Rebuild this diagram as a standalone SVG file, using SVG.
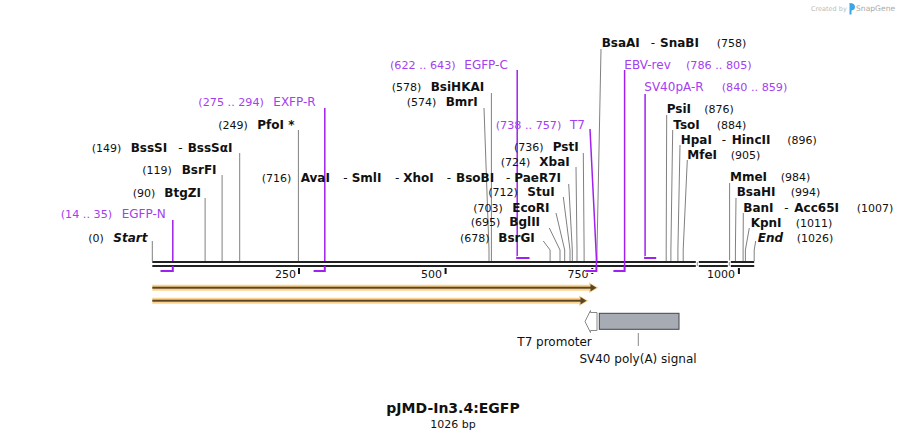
<svg xmlns="http://www.w3.org/2000/svg" width="908" height="440" viewBox="0 0 908 440">
<style>
text{font-family:"DejaVu Sans",Verdana,sans-serif;font-size:11px;fill:#111}
.b{font-weight:bold;font-size:12px}
.bi{font-weight:bold;font-style:italic;font-size:12px}
.d{font-size:12px}
.p{fill:#a440f0;font-size:12px}
.pn{fill:#a440f0;font-size:11.2px}
.ld{stroke:#808080;stroke-width:1;fill:none}
.pr{stroke:#a020f0;stroke-width:1.5;fill:none}
.ph{stroke:#a020f0;stroke-width:2;fill:none}
.halo{stroke:#fff;stroke-width:4;fill:none}
.bl{stroke:#222;stroke-width:2}
.tk{stroke:#111;stroke-width:2}
.band{fill:#fcd38c}
.dk{fill:#5a4528}
</style>
<rect width="908" height="440" fill="#fff"/>

<g id="credit">
<text x="811" y="10.5" style="font-size:6.5px;fill:#bbb">Created by</text>
<path d="M849.5 3 Q855 3 855 7 Q855 10 851.5 10.5 L851.5 14.5 L849.5 14.5 Z" fill="#3aa5e8"/>
<text x="856" y="11" style="font-size:7.6px;fill:#aaa">SnapGene</text>
</g>

<g id="connectors">
<path class="ld" d="M152.3 241V261"/>
<path class="ld" d="M205.1 198V261"/>
<path class="ld" d="M222.1 175V261"/>
<path class="ld" d="M239.7 153V261"/>
<path class="ld" d="M298.4 130V261"/>
<path class="ld" d="M491.4 93V261"/>
<path class="ld" d="M484 108L489 250V261"/>
<path class="ld" d="M543.3 241L550.1 250V261"/>
<path class="ld" d="M549.3 228L560 250V261"/>
<path class="ld" d="M556 213L564.7 250V261"/>
<path class="ld" d="M563.3 197L570 250V261"/>
<path class="ld" d="M568.7 184L572.3 250V261"/>
<path class="ld" d="M576 167L577 250V261"/>
<path class="ld" d="M583.3 153L584.1 250V261"/>
<path class="ld" d="M601 49L597 250V261"/>
<path class="ld" d="M666.7 115L666.2 250V261"/>
<path class="ld" d="M672.7 130L670.9 250V261"/>
<path class="ld" d="M680 145L677.9 250V261"/>
<path class="ld" d="M687.3 160L683.2 250V261"/>
<path class="ld" d="M729.6 183V261"/>
<path class="ld" d="M736 198L735.4 250V261"/>
<path class="ld" d="M743.3 213L743.1 250V261"/>
<path class="ld" d="M749.3 228L745.4 250V261"/>
<path class="ld" d="M755.7 241L754.2 250V261"/>
</g>

<g id="ruler">
<path class="bl" d="M152.3 262H754.2M152.3 266H754.2"/>
<path class="tk" d="M299 268V274M445.6 268V274M592.3 268V274M738.9 268V274"/>
<text x="296" y="278" text-anchor="end">250</text>
<text x="442" y="278" text-anchor="end">500</text>
<text x="588.5" y="278" text-anchor="end">750</text>
<text x="735" y="278" text-anchor="end">1000</text>
<g fill="#fff"><rect x="695.8" y="260.5" width="3" height="7"/><rect x="727.8" y="260.5" width="3" height="7"/></g>
<g fill="#333"><rect x="696.8" y="262.5" width="1" height="1"/><rect x="696.8" y="264.5" width="1" height="1"/><rect x="728.8" y="262.5" width="1" height="1"/><rect x="728.8" y="264.5" width="1" height="1"/></g>
</g>

<g id="primer-EGFP-N">
<path class="pr" d="M172.8 220V261"/>
<path class="halo" d="M160.5 271H173.5"/>
<path class="ph" d="M160.5 271H172.8V266"/>
<text y="217.5"><tspan class="pn" x="60.7">(14 .. 35)</tspan><tspan class="p" x="121.7">EGFP-N</tspan></text>
</g>
<g id="primer-EXFP-R">
<path class="pr" d="M324.8 108V261"/>
<path class="halo" d="M313.6 271H325.5"/>
<path class="ph" d="M313.6 271H324.8V266"/>
<text y="105.5"><tspan class="pn" x="198.3">(275 .. 294)</tspan><tspan class="p" x="273.3">EXFP-R</tspan></text>
</g>
<g id="primer-EGFP-C">
<path class="pr" d="M517.2 70V257"/>
<path class="halo" d="M516.5 258H529.5"/>
<path class="ph" d="M517.2 257V258H529.5"/>
<text y="68.5"><tspan class="pn" x="390">(622 .. 643)</tspan><tspan class="p" x="464.3">EGFP-C</tspan></text>
</g>
<g id="primer-T7">
<path class="pr" d="M590 129L596.4 258V266"/>
<path class="halo" d="M585.2 271H597"/>
<path class="ph" d="M585.2 271H596.4V266"/>
<text y="128.5"><tspan class="pn" x="495.7">(738 .. 757)</tspan><tspan class="p" x="570">T7</tspan></text>
</g>
<g id="primer-EBV-rev">
<path class="pr" d="M624.6 70V266"/>
<path class="halo" d="M613.4 271H625.3"/>
<path class="ph" d="M613.4 271H624.6V266"/>
<text y="68.5"><tspan class="p" x="624.3">EBV-rev</tspan><tspan class="pn" x="686">(786 .. 805)</tspan></text>
</g>
<g id="primer-SV40pA-R">
<path class="pr" d="M645.1 94V257"/>
<path class="halo" d="M644.4 258H656.2"/>
<path class="ph" d="M645.1 257V258H656.2"/>
<text y="90.5"><tspan class="p" x="644.3">SV40pA-R</tspan><tspan class="pn" x="721.7">(840 .. 859)</tspan></text>
</g>

<g id="site-Start"><text y="241.5"><tspan x="88.3">(0)</tspan><tspan class="bi" x="113.3">Start</tspan></text></g>
<g id="site-BtgZI"><text y="196.5"><tspan x="132.7">(90)</tspan><tspan class="b" x="164.3">BtgZI</tspan></text></g>
<g id="site-BsrFI"><text y="173.5"><tspan x="142.3">(119)</tspan><tspan class="b" x="181.7">BsrFI</tspan></text></g>
<g id="site-BssSI"><text y="151.5"><tspan x="91.7">(149)</tspan><tspan class="b" x="130.7">BssSI</tspan><tspan class="d" x="178.3">-</tspan><tspan class="b" x="187.7">BssSαI</tspan></text></g>
<g id="site-PfoI"><text y="128.5"><tspan x="218.3">(249)</tspan><tspan class="b" x="257.3">PfoI *</tspan></text></g>
<g id="site-AvaI"><text y="181.5"><tspan x="261.7">(716)</tspan><tspan class="b" x="300.7">AvaI</tspan><tspan class="d" x="343.3">-</tspan><tspan class="b" x="351.7">SmlI</tspan><tspan class="d" x="395">-</tspan><tspan class="b" x="403.3">XhoI</tspan><tspan class="d" x="446.7">-</tspan><tspan class="b" x="456">BsoBI</tspan><tspan class="d" x="506">-</tspan><tspan class="b" x="514.3">PaeR7I</tspan></text></g>
<g id="site-BsiHKAI"><text y="90.5"><tspan x="391.7">(578)</tspan><tspan class="b" x="430.7">BsiHKAI</tspan></text></g>
<g id="site-BmrI"><text y="105.5"><tspan x="406.7">(574)</tspan><tspan class="b" x="445.7">BmrI</tspan></text></g>
<g id="site-PstI"><text y="150.5"><tspan x="514">(736)</tspan><tspan class="b" x="552.7">PstI</tspan></text></g>
<g id="site-XbaI"><text y="165.5"><tspan x="500.7">(724)</tspan><tspan class="b" x="539.3">XbaI</tspan></text></g>
<g id="site-StuI"><text y="195.5"><tspan x="488.3">(712)</tspan><tspan class="b" x="527.3">StuI</tspan></text></g>
<g id="site-EcoRI"><text y="211.5"><tspan x="473.3">(703)</tspan><tspan class="b" x="512.3">EcoRI</tspan></text></g>
<g id="site-BglII"><text y="225.5"><tspan x="470.7">(695)</tspan><tspan class="b" x="509.3">BglII</tspan></text></g>
<g id="site-BsrGI"><text y="241.5"><tspan x="460">(678)</tspan><tspan class="b" x="498.3">BsrGI</tspan></text></g>
<g id="site-BsaAI"><text y="46.5"><tspan class="b" x="601.7">BsaAI</tspan><tspan class="d" x="650.7">-</tspan><tspan class="b" x="660">SnaBI</tspan><tspan x="716.7">(758)</tspan></text></g>
<g id="site-PsiI"><text y="112.5"><tspan class="b" x="666.7">PsiI</tspan><tspan x="704.3">(876)</tspan></text></g>
<g id="site-TsoI"><text y="128.5"><tspan class="b" x="673.3">TsoI</tspan><tspan x="716.7">(884)</tspan></text></g>
<g id="site-HpaI"><text y="143.5"><tspan class="b" x="680.7">HpaI</tspan><tspan class="d" x="721.7">-</tspan><tspan class="b" x="731.7">HincII</tspan><tspan x="787.3">(896)</tspan></text></g>
<g id="site-MfeI"><text y="158.5"><tspan class="b" x="687.3">MfeI</tspan><tspan x="730.7">(905)</tspan></text></g>
<g id="site-MmeI"><text y="180.5"><tspan class="b" x="730">MmeI</tspan><tspan x="780.7">(984)</tspan></text></g>
<g id="site-BsaHI"><text y="195.5"><tspan class="b" x="736.7">BsaHI</tspan><tspan x="790.7">(994)</tspan></text></g>
<g id="site-BanI"><text y="211.5"><tspan class="b" x="743.3">BanI</tspan><tspan class="d" x="784.3">-</tspan><tspan class="b" x="794.3">Acc65I</tspan><tspan x="856.7">(1007)</tspan></text></g>
<g id="site-KpnI"><text y="226.5"><tspan class="b" x="750.7">KpnI</tspan><tspan x="795.7">(1011)</tspan></text></g>
<g id="site-End"><text y="241.5"><tspan class="bi" x="757.7">End</tspan><tspan x="796.7">(1026)</tspan></text></g>

<g id="feature-1">
<path class="band" d="M152.3 284.7H589V282.5L598.5 287.7L589 293V290.7H152.3Z"/>
<rect class="dk" x="152.3" y="286.7" width="439" height="2"/>
<path class="dk" d="M590.5 283.9L596.5 287.7L590.5 291.5Z"/>
</g>
<g id="feature-2">
<path class="band" d="M152.3 297.7H579V295.5L588.5 300.7L579 306V303.7H152.3Z"/>
<rect class="dk" x="152.3" y="299.7" width="429" height="2"/>
<path class="dk" d="M580.5 296.9L586.5 300.7L580.5 304.5Z"/>
</g>
<g id="feature-T7-promoter">
<path d="M585 321.5L590.5 310.5V312.5H597V330.5H590.5V332.5Z" fill="#fff" stroke="#888" stroke-width="1"/>
<text x="517.3" y="346" class="d">T7 promoter</text>
</g>
<g id="feature-SV40-polyA">
<rect x="599.3" y="313.3" width="79.7" height="16" fill="#a6abb4" stroke="#444" stroke-width="1"/>
<path d="M638.3 333V346" stroke="#888" stroke-width="1"/>
<text x="638" y="363" text-anchor="middle" class="d">SV40 poly(A) signal</text>
</g>

<g id="title">
<text x="453" y="413" text-anchor="middle" style="font-weight:bold;font-size:14px">pJMD-In3.4:EGFP</text>
<text x="453" y="427.5" text-anchor="middle">1026 bp</text>
</g>
</svg>
